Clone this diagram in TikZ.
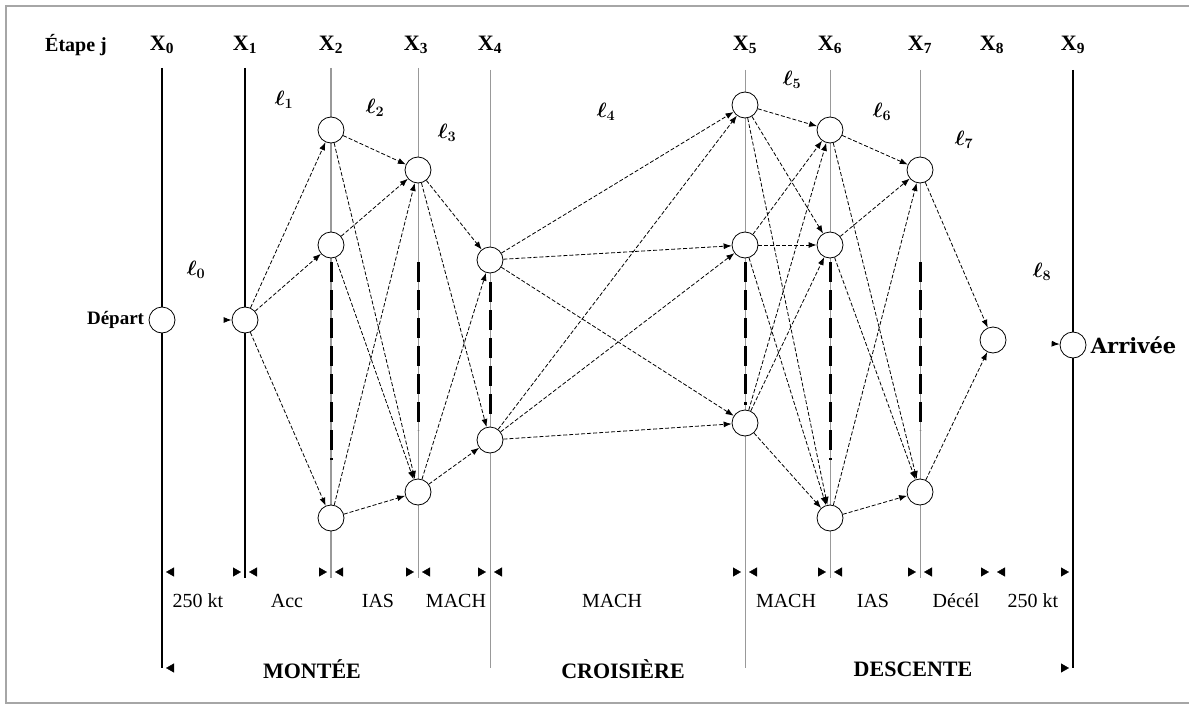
\documentclass[tikz,border=0pt]{standalone}
\usepackage{fontspec}
\setmainfont{Liberation Serif}
\newfontfamily\widefont{DejaVu Serif}
\usetikzlibrary{arrows.meta,positioning}

\begin{document}
\begin{tikzpicture}[
  x=1pt,
  y=-1pt,
]

  \tikzstyle{statenode}=[draw,circle,thick,fill=white,minimum size=26pt,inner sep=0pt]
  \tikzstyle{steplab}=[font=\fontsize{22}{24}\selectfont\bfseries]
  \tikzstyle{sidelab}=[font=\fontsize{19}{21}\selectfont\bfseries]
  \tikzstyle{legnode}=[font=\fontsize{22}{24}\selectfont\boldmath]
  \tikzstyle{phaselab}=[font=\fontsize{22}{24}\selectfont\bfseries]
  \tikzstyle{speedlab}=[font=\fontsize{20}{22}\selectfont]
  \tikzstyle{stepline}=[draw,black,line width=1.4pt]
  \tikzstyle{gridline}=[draw,gray!80,line width=0.9pt]
  \tikzstyle{hidden}=[draw,black,line width=3pt,dash pattern=on 20pt off 8pt]
  \tikzstyle{pointer}=[draw,dash pattern=on 4pt off 2pt,line width=0.8pt,-{Latex[length=8pt,width=6pt]}]
  \tikzstyle{dimarrow}=[draw=white,{Triangle[color=black,length=8pt,width=9pt]}-{Triangle[color=black,length=8pt,width=9pt]}]

  \useasboundingbox (0,0) rectangle (1189,709);
  \draw[gray!70,line width=2pt] (1205,6) -- (6,6) -- (6,703) -- (1205,703);

  % step lines
  \draw[stepline] (162,68) -- (162,668);
  \draw[stepline] (245,68) -- (245,578);
  \draw[gridline,line width=2pt] (331,68) -- (331,578);
  \draw[gridline] (418,68) -- (418,578);
  \draw[gridline] (490,70) -- (490,668);
  \draw[gridline] (745,70) -- (745,668);
  \draw[gridline] (830,70) -- (830,578);
  \draw[gridline] (920,70) -- (920,578);
  \draw[stepline] (1073,70) -- (1073,668);

  \foreach \x/\ya/\yb in {331/262/460,418/262/430,490/282/420,745/262/405,830/262/460,920/262/430}
    \draw[hidden] (\x,\ya) -- (\x,\yb);

  % step labels
  \node[sidelab,font=\fontsize{20}{22}\selectfont\bfseries] (etape) at (76,45) {Étape j};
  \foreach \i/\x in {0/162,1/245,2/331,3/416,4/490,5/745,6/830,7/920,8/992,9/1073}
    \node[steplab] (x\i) at (\x,45) {X\textsubscript{\i}};

  % nodes
  \node[statenode] (d0) at (162,320) {};
  \node[statenode] (n1) at (245,320) {};
  \node[statenode] (n2a) at (331,130) {};
  \node[statenode] (n2b) at (331,245) {};
  \node[statenode] (n2c) at (331,518) {};
  \node[statenode] (n3a) at (418,170) {};
  \node[statenode] (n3b) at (418,492) {};
  \node[statenode] (n4a) at (490,260) {};
  \node[statenode] (n4b) at (490,440) {};
  \node[statenode] (n5a) at (745,105) {};
  \node[statenode] (n5b) at (745,245) {};
  \node[statenode] (n5c) at (745,423) {};
  \node[statenode] (n6a) at (830,130) {};
  \node[statenode] (n6b) at (830,245) {};
  \node[statenode] (n6c) at (830,518) {};
  \node[statenode] (n7a) at (920,170) {};
  \node[statenode] (n7b) at (920,492) {};
  \node[statenode] (n8) at (993,340) {};
  \node[statenode] (n9) at (1073,345) {};

  \node[sidelab,left=1pt of d0] (depart) {Départ};
  \node[sidelab,right=1pt of n9,font=\fontsize{21}{23}\widefont\bfseries] (arrivee) {Arrivée};

  % legs
  \node[legnode] (l0) at (196,270) {$\ell_0$};
  \node[legnode] (l1) at (284,100) {$\ell_1$};
  \node[legnode] (l2) at (375,108) {$\ell_2$};
  \node[legnode] (l3) at (447,133) {$\ell_3$};
  \node[legnode] (l4) at (606,112) {$\ell_4$};
  \node[legnode] (l5) at (792,80) {$\ell_5$};
  \node[legnode] (l6) at (882,112) {$\ell_6$};
  \node[legnode] (l7) at (964,140) {$\ell_7$};
  \node[legnode] (l8) at (1042,272) {$\ell_8$};

  % pointers
  \draw[pointer,shorten <=50pt] (d0) -- (n1);
  \foreach \t in {a,b,c}
    \draw[pointer] (n1) -- (n2\t);
  \foreach \s in {a,b,c}
    \foreach \t in {a,b}
      \draw[pointer] (n2\s) -- (n3\t);
  \foreach \s in {a,b}
    \foreach \t in {a,b}
      \draw[pointer] (n3\s) -- (n4\t);
  \foreach \s in {a,b}
    \foreach \t in {a,b,c}
      \draw[pointer] (n4\s) -- (n5\t);
  \foreach \s in {a,b,c}
    \foreach \t in {a,b,c}
      \draw[pointer] (n5\s) -- (n6\t);
  \foreach \s in {a,b,c}
    \foreach \t in {a,b}
      \draw[pointer] (n6\s) -- (n7\t);
  \foreach \s in {a,b}
    \draw[pointer] (n7\s) -- (n8);
  \draw[pointer,shorten <=47pt] (n8) -- (n9);

  % segments
  \foreach \a/\b in {162/245,245/331,331/418,418/490,490/745,745/830,830/920,920/993,993/1073}
    \draw[dimarrow] (\a+4,572) -- (\b-4,572);
  \draw[dimarrow] (166,668) -- (1069,668);

  \node[speedlab] (s0) at (198,601) {250 kt};
  \node[speedlab] (s1) at (287,601) {Acc};
  \node[speedlab] (s2) at (378,601) {IAS};
  \node[speedlab] (s3) at (456,601) {MACH};
  \node[speedlab] (s4) at (612,601) {MACH};
  \node[speedlab] (s5) at (786,601) {MACH};
  \node[speedlab] (s6) at (873,601) {IAS};
  \node[speedlab] (s7) at (956,601) {Décél};
  \node[speedlab] (s8) at (1033,601) {250 kt};

  \node[phaselab] (p0) at (312,669) {MONTÉE};
  \node[phaselab] (p1) at (623,669) {CROISIÈRE};
  \node[phaselab] (p2) at (913,669) {DESCENTE};

\end{tikzpicture}
\end{document}
